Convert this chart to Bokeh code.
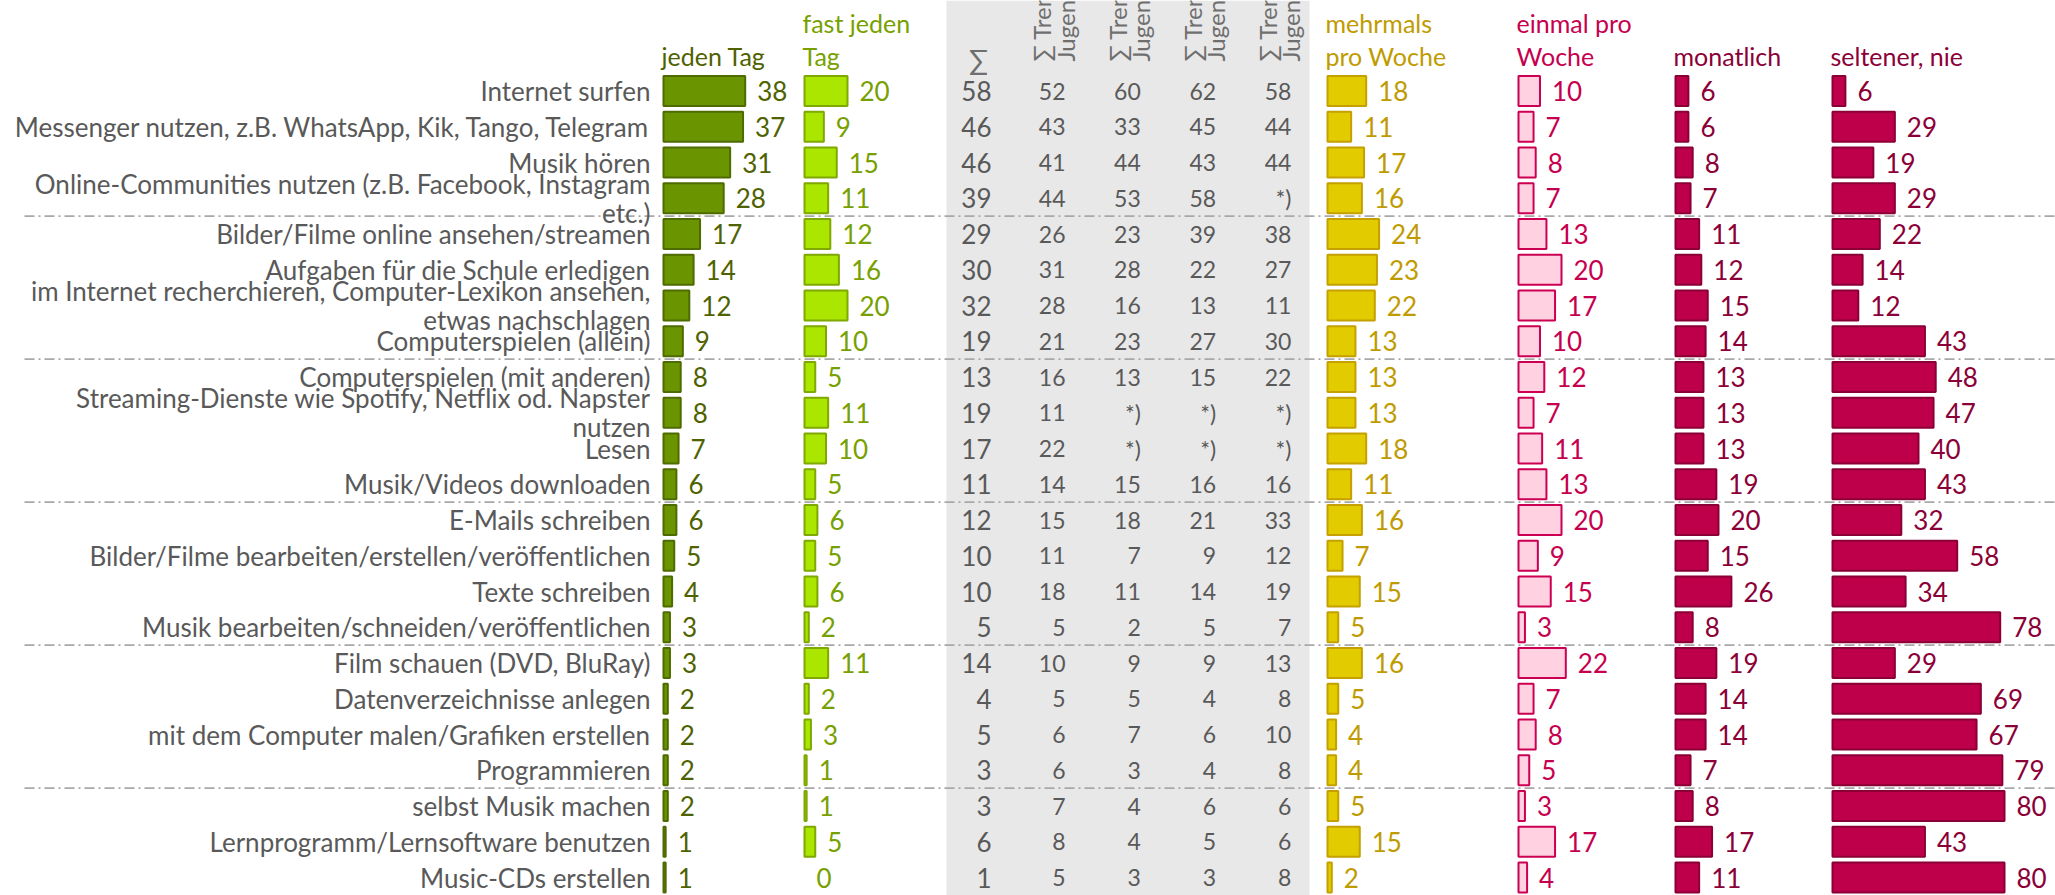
import math
from bokeh.plotting import figure
from bokeh.models import Range1d, ColumnDataSource, BoxAnnotation
from bokeh.embed import file_html
from bokeh.resources import INLINE
from bokeh.core.properties import value

# ---------------- data ----------------
activities = [
    "Internet surfen",
    "Messenger nutzen, z.B. WhatsApp, Kik, Tango, Telegram",
    "Musik hören",
    "Online-Communities nutzen (z.B. Facebook, Instagram\netc.)",
    "Bilder/Filme online ansehen/streamen",
    "Aufgaben für die Schule erledigen",
    "im Internet recherchieren, Computer-Lexikon ansehen,\netwas nachschlagen",
    "Computerspielen (allein)",
    "Computerspielen (mit anderen)",
    "Streaming-Dienste wie Spotify, Netflix od. Napster\nnutzen",
    "Lesen",
    "Musik/Videos downloaden",
    "E-Mails schreiben",
    "Bilder/Filme bearbeiten/erstellen/veröffentlichen",
    "Texte schreiben",
    "Musik bearbeiten/schneiden/veröffentlichen",
    "Film schauen (DVD, BluRay)",
    "Datenverzeichnisse anlegen",
    "mit dem Computer malen/Grafiken erstellen",
    "Programmieren",
    "selbst Musik machen",
    "Lernprogramm/Lernsoftware benutzen",
    "Music-CDs erstellen",
]
jeden_tag = [38, 37, 31, 28, 17, 14, 12, 9, 8, 8, 7, 6, 6, 5, 4, 3, 3, 2, 2, 2, 2, 1, 1]
fast_jeden_tag = [20, 9, 15, 11, 12, 16, 20, 10, 5, 11, 10, 5, 6, 5, 6, 2, 11, 2, 3, 1, 1, 5, 0]
summe = [58, 46, 46, 39, 29, 30, 32, 19, 13, 19, 17, 11, 12, 10, 10, 5, 14, 4, 5, 3, 3, 6, 1]
trend_1 = [52, 43, 41, 44, 26, 31, 28, 21, 16, 11, 22, 14, 15, 11, 18, 5, 10, 5, 6, 6, 7, 8, 5]
trend_2 = [60, 33, 44, 53, 23, 28, 16, 23, 13, "*)", "*)", 15, 18, 7, 11, 2, 9, 5, 7, 3, 4, 4, 3]
trend_3 = [62, 45, 43, 58, 39, 22, 13, 27, 15, "*)", "*)", 16, 21, 9, 14, 5, 9, 4, 6, 4, 6, 5, 3]
trend_4 = [58, 44, 44, "*)", 38, 27, 11, 30, 22, "*)", "*)", 16, 33, 12, 19, 7, 13, 8, 10, 8, 6, 6, 8]
mehrmals_pro_woche = [18, 11, 17, 16, 24, 23, 22, 13, 13, 13, 18, 11, 16, 7, 15, 5, 16, 5, 4, 4, 5, 15, 2]
einmal_pro_woche = [10, 7, 8, 7, 13, 20, 17, 10, 12, 7, 11, 13, 20, 9, 15, 3, 22, 7, 8, 5, 3, 17, 4]
monatlich = [6, 6, 8, 7, 11, 12, 15, 14, 13, 13, 13, 19, 20, 15, 26, 8, 19, 14, 14, 7, 8, 17, 11]
seltener_nie = [6, 29, 19, 29, 22, 14, 12, 43, 48, 47, 40, 43, 32, 58, 34, 78, 29, 69, 67, 79, 80, 43, 80]

header_line1 = ["", "fast jeden", "mehrmals", "einmal pro", "", ""]
header_line2 = ["jeden Tag", "Tag", "pro Woche", "Woche", "monatlich", "seltener, nie"]
sum_header = "∑"
trend_headers = ["∑ Trend\nJugendliche"] * 4

# ---------------- layout / style ----------------
W, H = 2055, 895
X0, Y0 = 0, 0
ROW0, PITCH = 90.5, 35.75   # first row centre and row pitch (px)
K = 2.15                    # px per percent
FONT = value("Lato")


def row_of(y_px):
    return (y_px - ROW0) / PITCH


bar_series = [jeden_tag, fast_jeden_tag, mehrmals_pro_woche, einmal_pro_woche, monatlich, seltener_nie]
col_start = [663, 804, 1327, 1518, 1675, 1832]
fills = ["#6B9500", "#AAE600", "#E2CC00", "#FFD1E1", "#BE004A", "#BE004A"]
lines = ["#4E6B00", "#7FA800", "#C4A000", "#CC0052", "#8A0036", "#8A0036"]
txtcol = ["#4F6200", "#77A000", "#C09B00", "#C6004E", "#8B0037", "#8B0037"]

n = len(activities)
rows = list(range(n))

p = figure(width=W, height=H, output_backend="svg", toolbar_location=None,
           x_range=Range1d(X0, X0 + W), y_range=Range1d(row_of(Y0 + H), row_of(Y0)),
           x_axis_location=None, y_axis_location=None, min_border=0,
           outline_line_color=None, title=None)
p.grid.visible = False
p.background_fill_color = "white"

# grey band behind the sum / trend columns
p.add_layout(BoxAnnotation(left=946, right=1309, fill_color="#E8E8E8", fill_alpha=1.0,
                           line_color=None, level="underlay"))

# group separators every 4 rows
sep_y = [i - 0.5 for i in range(4, n, 4)]
p.segment(x0=[24] * len(sep_y), x1=[X0 + W] * len(sep_y), y0=sep_y, y1=sep_y,
          line_color="#A8A8A8", line_width=1.6, line_dash="10 4 2 4")

# row labels
p.text(x=[650] * n, y=rows, text=activities, text_font=FONT, text_font_size="26px",
       text_color="#595959", text_align="right", text_baseline="middle",
       text_line_height=0.92)

# bars + value labels
for vals, x0, fc, lc, tc in zip(bar_series, col_start, fills, lines, txtcol):
    src = ColumnDataSource(dict(
        y=rows,
        left=[x0] * n,
        right=[x0 + v * K for v in vals],
        la=[0.0 if v == 0 else 1.0 for v in vals],
        lx=[x0 + v * K + 12 for v in vals],
        t=[str(v) for v in vals],
    ))
    p.hbar(y="y", left="left", right="right", height=30 / PITCH, source=src,
           fill_color=fc, line_color=lc, line_width=2, line_alpha="la", fill_alpha="la")
    p.text(x="lx", y="y", text="t", source=src, text_font=FONT, text_font_size="26px",
           text_color=tc, text_align="left", text_baseline="middle")

# column headers
hx = [s - 2 for s in col_start]
p.text(x=hx, y=[row_of(22)] * len(hx), text=header_line1, text_font=FONT,
       text_font_size="25px", text_color=txtcol, text_align="left", text_baseline="middle")
p.text(x=hx, y=[row_of(55)] * len(hx), text=header_line2, text_font=FONT,
       text_font_size="25px", text_color=txtcol, text_align="left", text_baseline="middle")

# sum column
SUM_RIGHT = 991
p.text(x=[SUM_RIGHT] * n, y=rows, text=[str(v) for v in summe], text_font=FONT,
       text_font_size="26px", text_color="#595959", text_align="right", text_baseline="middle")
p.text(x=[SUM_RIGHT - 13], y=[row_of(58)], text=[sum_header], text_font=FONT,
       text_font_size="28px", text_color="#6F6F6F", text_align="center", text_baseline="middle")

# trend columns
trend_right = [1065 + i * 75.3 for i in range(4)]
for xr, vals in zip(trend_right, [trend_1, trend_2, trend_3, trend_4]):
    p.text(x=[xr] * n, y=rows, text=[str(v) for v in vals], text_font=FONT,
           text_font_size="23px", text_color="#595959", text_align="right",
           text_baseline="middle")
p.text(x=[xr - 12 for xr in trend_right], y=[row_of(61)] * 4, text=trend_headers,
       angle=math.pi / 2, text_font=FONT, text_font_size="24px", text_color="#6F6F6F",
       text_align="left", text_baseline="middle", text_line_height=0.8)

open("out.html", "w").write(file_html(p, INLINE))
